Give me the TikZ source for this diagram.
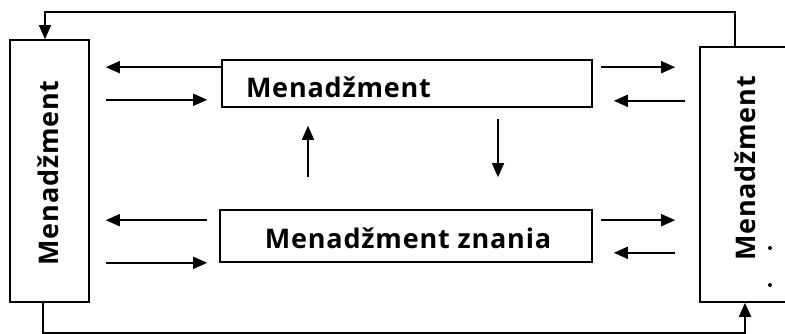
\documentclass[tikz,border=0pt]{standalone}
\usepackage{fontspec}
\setsansfont{Open Sans}[LetterSpace=3]
\usepackage{tikz}
\usetikzlibrary{arrows.meta, positioning, calc}

\begin{document}
\begin{tikzpicture}[
  x=1pt, y=1pt,
  line width=1.6pt,
  box/.style={draw, inner sep=0pt},
  lbl/.style={font=\fontsize{27}{32}\selectfont\sffamily\bfseries, inner sep=0pt},
  arr/.style={-{Triangle[length=14pt,width=12pt]}},
]
\useasboundingbox (0,0) rectangle (785,334);
\node[box, minimum width=79pt, minimum height=262pt] (left) at (49.5,163) {};
\node[box, minimum width=100pt, minimum height=255pt] (right) at (750,159.5) {};
\node[box, minimum width=370pt, minimum height=47pt] (top) at (407,250.5) {};
\node[box, minimum width=372pt, minimum height=52pt] (bot) at (406,98) {};
\node[lbl, anchor=west] (toptxt) at ($(top.west)+(24,-4)$) {Menadžment};
\node[lbl] (bottxt) at ($(bot.center)+(2,-2)$) {Menadžment znania};
\node[lbl, rotate=90] (lefttxt) at ($(left.center)+(-1,-2)$) {Menadžment};
\node[lbl, rotate=90] (righttxt) at ($(right.center)+(-5,6)$) {Menadžment};
\foreach \y in {86,49} \fill (770,\y) circle (2pt);
% feedback loops
\draw[arr] ($(right.north)+(-15,0)$) -- ++(0,34) -| ($(left.north)+(-4.5,0)$);
\draw[arr] ($(left.south)+(-6.5,0)$) -- ++(0,-30.5) -| ($(right.south)+(-5,0)$);
% top box
\draw[arr] ($(top.north west)+(0,-8)$) -- ($(top.north west -| left.east)+(16,-8)$);
\draw[arr] ($(top.south west -| left.east)+(16,8)$) -- ($(top.south west)+(-14,8)$);
\draw[arr] ($(top.north east)+(8,-8)$) -- ($(top.north east -| right.west)+(-24,-8)$);
\draw[arr] ($(top.south east -| right.west)+(-14,7)$) -- ($(top.south east)+(21,7)$);
% bottom box
\draw[arr] ($(bot.north west)+(-12,-11)$) -- ($(bot.north west -| left.east)+(16,-11)$);
\draw[arr] ($(bot.south west -| left.east)+(16,0)$) -- ($(bot.south west)+(-12,0)$);
\draw[arr] ($(bot.north east)+(8,-11)$) -- ($(bot.north east -| right.west)+(-24,-11)$);
\draw[arr] ($(bot.south east -| right.west)+(-24,10)$) -- ($(bot.south east)+(21,10)$);
% between the boxes
\draw[arr] ($(bot.north)+(-98,32)$) -- ($(top.south)+(-99,-18)$);
\draw[arr] ($(top.south)+(91,-11)$) -- ($(bot.north)+(92,32)$);
\end{tikzpicture}
\end{document}
